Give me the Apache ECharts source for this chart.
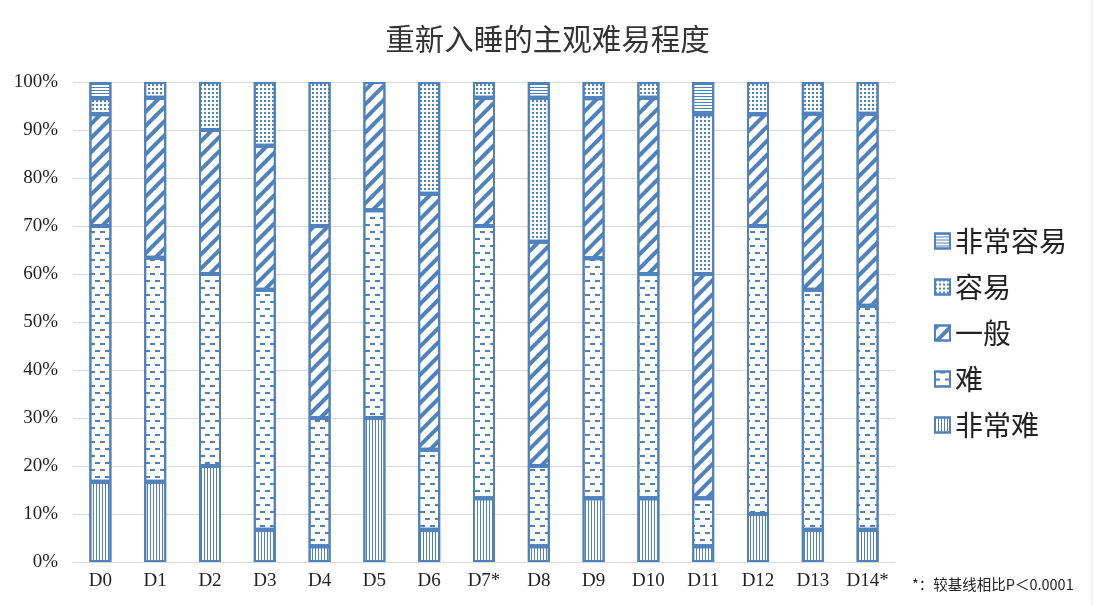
<!DOCTYPE html>
<html>
<head>
<meta charset="utf-8">
<title>重新入睡的主观难易程度</title>
<script src="https://cdn.jsdelivr.net/npm/echarts@6/dist/echarts.min.js"></script>
<style>
  html, body { margin: 0; padding: 0; background: #fff; }
  #main-chart { width: 1095px; height: 605px; }
</style>
</head>
<body>
<div id="main-chart"></div>
<script>
// 天数
const days = ['D0', 'D1', 'D2', 'D3', 'D4', 'D5', 'D6', 'D7*', 'D8', 'D9', 'D10', 'D11', 'D12', 'D13', 'D14*']
// 各等级占比 (%)
const veryHard = [16.7, 16.7, 20, 6.7, 3.3, 30, 6.7, 13.3, 3.3, 13.3, 13.3, 3.3, 10, 6.7, 6.7]
const hard = [53.3, 46.7, 40, 50, 26.7, 43.3, 16.7, 56.7, 16.7, 50, 46.7, 10, 60, 50, 46.7]
const normal = [23.3, 33.3, 30, 30, 40, 26.7, 53.3, 26.7, 46.7, 33.3, 36.7, 46.7, 23.3, 36.7, 40]
const easy = [3.3, 3.3, 10, 13.3, 30, 0, 23.3, 3.3, 30, 3.4, 3.3, 33.3, 6.7, 6.6, 6.6]
const veryEasy = [3.4, 0, 0, 0, 0, 0, 0, 0, 3.3, 0, 0, 6.7, 0, 0, 0]
const yTicks = [0, 10, 20, 30, 40, 50, 60, 70, 80, 90, 100]

const blue = '#4f81bd'

function makeSeries(name, data, decal) {
  return {
    name: name,
    type: 'bar',
    stack: 'total',
    barWidth: 22,
    // 0 的段不画, 否则边框会叠成一条粗线
    data: data.map(v => (v === 0 ? '-' : v)),
    itemStyle: {
      color: '#ffffff',
      borderColor: blue,
      borderWidth: 2,
      decal: Object.assign({ color: blue, symbol: 'rect', symbolSize: 1 }, decal)
    }
  }
}

const myChart = echarts.init(document.getElementById('main-chart'))

const option = {
  animation: false,
  title: {
    text: '重新入睡的主观难易程度',
    left: 'center',
    top: 19,
    textStyle: {
      fontFamily: 'Noto Sans CJK SC',
      fontSize: 29.5,
      fontWeight: 'normal',
      color: '#333'
    }
  },
  legend: {
    orient: 'vertical',
    left: 929,
    top: 222,
    icon: 'rect',
    itemWidth: 15,
    itemHeight: 15,
    itemGap: 18,
    data: ['非常容易', '容易', '一般', '难', '非常难'],
    textStyle: {
      fontFamily: 'Noto Sans CJK SC',
      fontSize: 28,
      color: '#222'
    }
  },
  grid: {
    left: 73,
    right: 200,
    top: 82,
    bottom: 43
  },
  xAxis: {
    type: 'category',
    data: days,
    axisTick: { show: false },
    axisLine: { lineStyle: { color: '#d9d9d9' } },
    axisLabel: {
      interval: 0,
      fontFamily: 'Liberation Serif',
      fontSize: 19,
      color: '#222',
      margin: 10
    }
  },
  yAxis: {
    type: 'value',
    min: yTicks[0],
    max: yTicks[yTicks.length - 1],
    interval: 10,
    axisLine: { show: false },
    axisTick: { show: false },
    axisLabel: {
      fontFamily: 'Liberation Serif',
      fontSize: 19,
      color: '#222',
      margin: 15,
      formatter: v => v + '%'
    },
    splitLine: { lineStyle: { color: '#d9d9d9' } }
  },
  series: [
    makeSeries('非常难', veryHard, { dashArrayX: [1, 2], dashArrayY: [4, 0] }),
    makeSeries('难', hard, { dashArrayX: [[5, 5], [0, 5, 5, 0]], dashArrayY: [1.5, 5] }),
    makeSeries('一般', normal, { dashArrayX: [1, 0], dashArrayY: [3.5, 6], rotation: -Math.PI / 4 }),
    makeSeries('容易', easy, { dashArrayX: [1.5, 2], dashArrayY: [1.5, 2] }),
    makeSeries('非常容易', veryEasy, { dashArrayX: [1, 0], dashArrayY: [1, 2] })
  ],
  graphic: [
    {
      type: 'text',
      left: 912,
      top: 577,
      style: {
        text: '*：较基线相比P＜0.0001',
        fontFamily: 'Noto Sans CJK SC',
        fontSize: 14.5,
        fill: '#222'
      }
    },
    {
      type: 'line',
      shape: { x1: 1092, y1: 0, x2: 1092, y2: 605 },
      style: { stroke: '#e8e8e8', lineWidth: 1 }
    }
  ]
}

myChart.setOption(option)
</script>
</body>
</html>
